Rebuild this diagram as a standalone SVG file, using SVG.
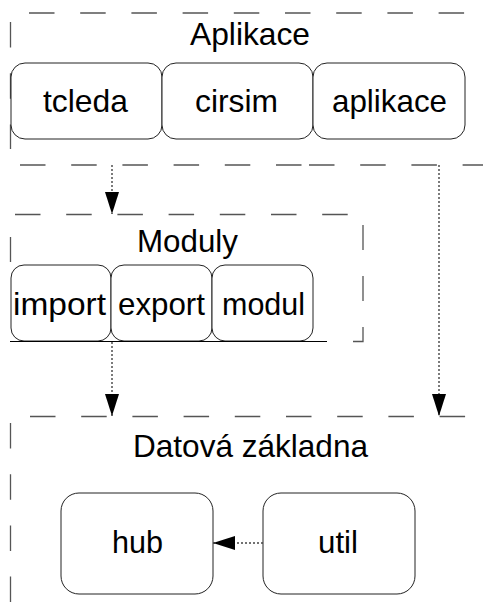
<svg xmlns="http://www.w3.org/2000/svg" width="483" height="613" viewBox="0 0 483 613">
  <style>
    .group { fill: none; stroke: #555; stroke-width: 1.3; stroke-dasharray: 25.5 25.7; }
    .node rect { fill: #fff; stroke: #222; stroke-width: 1; }
    .label { font-family: "Liberation Sans", Arial, sans-serif; font-size: 31.5px; fill: #000; }
    .dep { fill: none; stroke: #444; stroke-width: 1.4; stroke-dasharray: 2 2; }
  </style>
  <defs>
    <marker id="head" markerUnits="userSpaceOnUse" viewBox="0 0 22 14" refX="22" refY="7" markerWidth="22" markerHeight="14" orient="auto">
      <path d="M0,0 L22,7 L0,14 z" fill="#000"/>
    </marker>
  </defs>

  <rect width="483" height="613" fill="#fff"/>

  <!-- layer outlines -->
  <g id="layer-aplikace">
    <line class="group" x1="29" y1="13" x2="465" y2="13"/>
    <line class="group" x1="10.5" y1="22" x2="10.5" y2="149"/>
    <line class="group" x1="20" y1="165" x2="303" y2="165"/>
    <line class="group" x1="309" y1="165" x2="483" y2="165"/>
    <text class="label" x="190" y="45" textLength="120" lengthAdjust="spacingAndGlyphs">Aplikace</text>
  </g>
  <g id="layer-moduly">
    <line class="group" x1="15" y1="214.5" x2="349" y2="214.5"/>
    <line class="group" x1="10.5" y1="237" x2="10.5" y2="262"/>
    <polyline class="group" points="363,225 363,341.5 353,341.5" style="stroke-dasharray:25 26"/>
    <text class="label" x="137" y="252" textLength="101" lengthAdjust="spacingAndGlyphs">Moduly</text>
  </g>
  <g id="layer-data">
    <line class="group" x1="30" y1="416.5" x2="466" y2="416.5"/>
    <line class="group" x1="10.5" y1="423" x2="10.5" y2="605"/>
    <text class="label" x="133" y="457" textLength="235" lengthAdjust="spacingAndGlyphs">Datová základna</text>
  </g>

  <!-- application nodes -->
  <g id="tcleda" class="node">
    <rect x="11" y="63" width="151" height="76" rx="14"/>
    <text class="label" x="43" y="112" textLength="85" lengthAdjust="spacingAndGlyphs">tcleda</text>
  </g>
  <g id="cirsim" class="node">
    <rect x="162" y="63" width="151" height="76" rx="14"/>
    <text class="label" x="195" y="112" textLength="83" lengthAdjust="spacingAndGlyphs">cirsim</text>
  </g>
  <g id="aplikace" class="node">
    <rect x="313" y="63" width="152" height="76" rx="14"/>
    <text class="label" x="332" y="112" textLength="115" lengthAdjust="spacingAndGlyphs">aplikace</text>
  </g>

  <!-- module nodes -->
  <g id="import" class="node">
    <rect x="11" y="265" width="100" height="76" rx="13"/>
    <text class="label" x="13" y="315" textLength="93" lengthAdjust="spacingAndGlyphs">import</text>
  </g>
  <g id="export" class="node">
    <rect x="111" y="265" width="101" height="76" rx="13"/>
    <text class="label" x="118" y="315" textLength="87" lengthAdjust="spacingAndGlyphs">export</text>
  </g>
  <g id="modul" class="node">
    <rect x="212" y="265" width="101" height="76" rx="13"/>
    <text class="label" x="222" y="315" textLength="83" lengthAdjust="spacingAndGlyphs">modul</text>
  </g>
  <line x1="10" y1="341.5" x2="327" y2="341.5" stroke="#000" stroke-width="1"/>

  <!-- data nodes -->
  <g id="hub" class="node">
    <rect x="61" y="493" width="152" height="101" rx="18"/>
    <text class="label" x="112" y="553" textLength="51" lengthAdjust="spacingAndGlyphs">hub</text>
  </g>
  <g id="util" class="node">
    <rect x="263" y="493" width="152" height="101" rx="18"/>
    <text class="label" x="318" y="553" textLength="40" lengthAdjust="spacingAndGlyphs">util</text>
  </g>

  <!-- dependencies -->
  <g id="connectors">
    <line class="dep" x1="112" y1="165" x2="112" y2="214" marker-end="url(#head)"/>
    <line class="dep" x1="112" y1="342" x2="112" y2="416" marker-end="url(#head)"/>
    <line class="dep" x1="439" y1="165" x2="439" y2="416" marker-end="url(#head)"/>
    <line class="dep" x1="263" y1="543" x2="213" y2="543" marker-end="url(#head)"/>
  </g>
</svg>
